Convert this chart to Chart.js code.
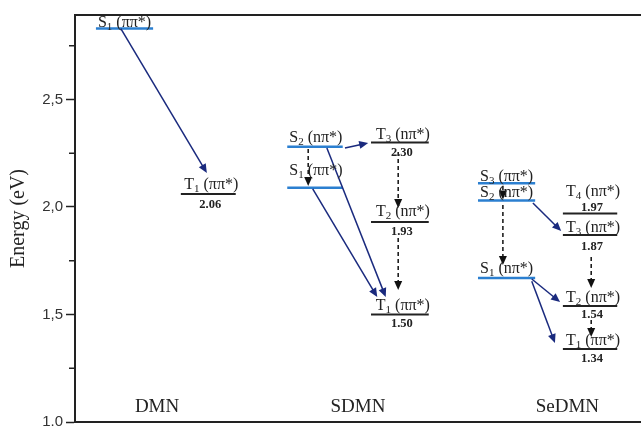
<!DOCTYPE html>
<html>
<head>
<meta charset="utf-8">
<script src="https://cdn.jsdelivr.net/npm/chart.js@4.4.0/dist/chart.umd.min.js"></script>
<style>
html, body { margin: 0; padding: 0; background: #fff; }
#wrap { width: 641px; height: 428px; }
</style>
</head>
<body>
<div id="wrap"><canvas id="energyChart"></canvas></div>
<script>
// molecules (x = column centre used for the name under the diagram)
var groupNames = ["DMN", "SDMN", "SeDMN"];
var groupX = [1.45, 5.0, 8.7];

// energy levels, one entry per level
var levelKind    = ["S", "T", "S", "S", "T", "T", "T", "S", "S", "S", "T", "T", "T", "T"];
var levelIndex   = ["1", "1", "2", "1", "3", "2", "1", "3", "2", "1", "4", "3", "2", "1"];
var levelOrbital = ["\u03c0\u03c0*", "\u03c0\u03c0*", "n\u03c0*", "\u03c0\u03c0*", "n\u03c0*", "n\u03c0*", "\u03c0\u03c0*",
                    "\u03c0\u03c0*", "n\u03c0*", "n\u03c0*", "n\u03c0*", "n\u03c0*", "n\u03c0*", "\u03c0\u03c0*"];
var levelEnergy  = [2.83, 2.06, 2.28, 2.09, 2.30, 1.93, 1.50, 2.11, 2.03, 1.67, 1.97, 1.87, 1.54, 1.34];
var levelValue   = ["", "2.06", "", "", "2.30", "1.93", "1.50", "", "", "", "1.97", "1.87", "1.54", "1.34"];
var levelFrom    = [0.37, 1.87, 3.75, 3.75, 5.23, 5.23, 5.23, 7.12, 7.12, 7.12, 8.62, 8.62, 8.62, 8.62];
var levelTo      = [1.38, 2.84, 4.73, 4.73, 6.25, 6.25, 6.25, 8.13, 8.13, 8.13, 9.58, 9.58, 9.58, 9.58];

// transitions: start (x, E) -> end (x, E), solid = ISC/IC arrows, dash = relaxation
var arrowX0 = [0.81, 4.77, 4.12, 4.20, 4.45, 5.71, 5.71, 7.56, 7.56, 8.09, 8.07, 8.07, 9.12, 9.12];
var arrowE0 = [2.83, 2.274, 2.27, 2.084, 2.274, 2.256, 1.856, 2.098, 2.009, 2.019, 1.665, 1.655, 1.767, 1.474];
var arrowX1 = [2.33, 5.18, 4.12, 5.34, 5.49, 5.71, 5.71, 7.56, 7.56, 8.59, 8.57, 8.48, 9.12, 9.12];
var arrowE1 = [2.158, 2.298, 2.098, 1.581, 1.581, 1.995, 1.614, 2.035, 1.730, 1.888, 1.558, 1.367, 1.623, 1.395];
var arrowType = ["solid", "solid", "dash", "solid", "solid", "dash", "dash", "dash", "dash", "solid", "solid", "solid", "dash", "dash"];

// y axis
var yTicks = [1.0, 1.25, 1.5, 1.75, 2.0, 2.25, 2.5, 2.75];
var yMajor = [1.0, 1.5, 2.0, 2.5];
var yMajorLabels = ["1.0", "1,5", "2,0", "2,5"];

// label placement (px): name baseline above the line, value centre from the line
var nameLift  = [2, 5, 5, 13, 3, 6, 4, 2, 4, 5, 17, 3, 4, 4];
var valueDrop = [0, 11, 0, 0, 10, 10, 9, 0, 0, 0, -6, 12, 9, 10];

var SERIF = "'Liberation Serif', 'Times New Roman', serif";
var S_COLOR = "#2b7fd0";
var T_COLOR = "#222222";
var ARROW_COLOR = "#1a2a7e";

function isMajor(v) {
	return yMajor.some(function(m) { return Math.abs(m - v) < 1e-6; });
}

var datasets = [];
for (var i = 0; i < levelEnergy.length; i++) {
	datasets.push({
		data: [{x: levelFrom[i], y: levelEnergy[i]}, {x: levelTo[i], y: levelEnergy[i]}],
		showLine: true,
		borderColor: levelKind[i] == "S" ? S_COLOR : T_COLOR,
		borderWidth: levelKind[i] == "S" ? 2.5 : 2,
		pointRadius: 0,
		pointHoverRadius: 0
	});
}

function drawName(ctx, i, x, y, centred) {
	var main = "16px " + SERIF, sub = "11px " + SERIF;
	var rest = " (" + levelOrbital[i] + ")";
	ctx.font = main;
	var w1 = ctx.measureText(levelKind[i]).width;
	var w3 = ctx.measureText(rest).width;
	ctx.font = sub;
	var w2 = ctx.measureText(levelIndex[i]).width;
	if (centred) x -= (w1 + w2 + w3) / 2;
	ctx.textAlign = "left";
	ctx.textBaseline = "alphabetic";
	ctx.fillStyle = "#222";
	ctx.font = main;
	ctx.fillText(levelKind[i], x, y);
	ctx.font = sub;
	ctx.fillText(levelIndex[i], x + w1, y + 3);
	ctx.font = main;
	ctx.fillText(rest, x + w1 + w2, y);
}

var diagramPlugin = {
	id: "diagram",
	afterDatasetsDraw: function(chart) {
		var ctx = chart.ctx, xs = chart.scales.x, ys = chart.scales.y, a = chart.chartArea;
		ctx.save();

		// frame: top and bottom lines run to the right edge
		ctx.strokeStyle = "#222";
		ctx.lineWidth = 2;
		ctx.beginPath();
		ctx.moveTo(a.left - 1, a.top); ctx.lineTo(a.right, a.top);
		ctx.moveTo(a.left - 1, a.bottom); ctx.lineTo(a.right, a.bottom);
		ctx.stroke();

		// minor ticks
		ctx.lineWidth = 1.5;
		yTicks.forEach(function(v) {
			if (isMajor(v)) return;
			var py = ys.getPixelForValue(v);
			ctx.beginPath();
			ctx.moveTo(a.left - 6, py); ctx.lineTo(a.left - 1, py);
			ctx.stroke();
		});

		// arrows
		for (var k = 0; k < arrowX0.length; k++) {
			var x0 = xs.getPixelForValue(arrowX0[k]), y0 = ys.getPixelForValue(arrowE0[k]);
			var x1 = xs.getPixelForValue(arrowX1[k]), y1 = ys.getPixelForValue(arrowE1[k]);
			var ang = Math.atan2(y1 - y0, x1 - x0);
			var head = 9, half = 4;
			var col = arrowType[k] == "solid" ? ARROW_COLOR : "#111";
			ctx.strokeStyle = col;
			ctx.fillStyle = col;
			ctx.lineWidth = 1.5;
			ctx.setLineDash(arrowType[k] == "dash" ? [4, 3] : []);
			ctx.beginPath();
			ctx.moveTo(x0, y0);
			ctx.lineTo(x1 - Math.cos(ang) * head * 0.8, y1 - Math.sin(ang) * head * 0.8);
			ctx.stroke();
			ctx.setLineDash([]);
			ctx.beginPath();
			ctx.moveTo(x1, y1);
			ctx.lineTo(x1 - Math.cos(ang) * head + Math.sin(ang) * half, y1 - Math.sin(ang) * head - Math.cos(ang) * half);
			ctx.lineTo(x1 - Math.cos(ang) * head - Math.sin(ang) * half, y1 - Math.sin(ang) * head + Math.cos(ang) * half);
			ctx.closePath();
			ctx.fill();
		}

		// level names and values
		for (var i = 0; i < levelEnergy.length; i++) {
			var px0 = xs.getPixelForValue(levelFrom[i]), px1 = xs.getPixelForValue(levelTo[i]);
			var py = ys.getPixelForValue(levelEnergy[i]);
			if (levelKind[i] == "S") {
				drawName(ctx, i, px0 + 2, py - nameLift[i], false);
			} else {
				drawName(ctx, i, (px0 + px1) / 2 + 3, py - nameLift[i], true);
			}
			if (levelValue[i] != "") {
				ctx.font = "bold 12.5px " + SERIF;
				ctx.textAlign = "center";
				ctx.textBaseline = "middle";
				ctx.fillStyle = "#222";
				ctx.fillText(levelValue[i], (px0 + px1) / 2 + 2, py + valueDrop[i]);
			}
		}

		// molecule names
		ctx.font = "19px " + SERIF;
		ctx.textAlign = "center";
		ctx.textBaseline = "alphabetic";
		ctx.fillStyle = "#222";
		for (var g = 0; g < groupNames.length; g++) {
			ctx.fillText(groupNames[g], xs.getPixelForValue(groupX[g]), a.bottom - 10);
		}
		ctx.restore();
	}
};

new Chart(document.getElementById("energyChart"), {
	type: "scatter",
	data: { datasets: datasets },
	options: {
		responsive: true,
		maintainAspectRatio: false,
		animation: false,
		layout: { padding: { left: 0, right: 0, top: 15, bottom: 6 } },
		plugins: { legend: { display: false }, tooltip: { enabled: false } },
		scales: {
			x: { type: "linear", min: 0, max: 10, display: false },
			y: {
				type: "linear",
				min: 1.0,
				max: 2.893,
				afterBuildTicks: function(scale) {
					scale.ticks = yTicks.map(function(v) { return { value: v }; });
				},
				afterFit: function(scale) {
					scale.width = 75;
					scale.paddingTop = 0;
					scale.paddingBottom = 0;
				},
				border: { display: true, color: "#222", width: 2 },
				grid: {
					drawOnChartArea: false,
					tickLength: 9,
					tickWidth: 1.5,
					tickColor: function(c) { return isMajor(c.tick.value) ? "#222" : "rgba(0,0,0,0)"; }
				},
				ticks: {
					padding: 3,
					color: "#333",
					font: { family: "'Liberation Sans', Arial, sans-serif", size: 15 },
					callback: function(v) {
						for (var j = 0; j < yMajor.length; j++) {
							if (Math.abs(yMajor[j] - v) < 1e-6) return yMajorLabels[j];
						}
						return "";
					}
				},
				title: {
					display: true,
					text: "Energy (eV)",
					color: "#222",
					font: { family: SERIF, size: 20 },
					padding: { top: 7, bottom: 0 }
				}
			}
		}
	},
	plugins: [diagramPlugin]
});
</script>
</body>
</html>
